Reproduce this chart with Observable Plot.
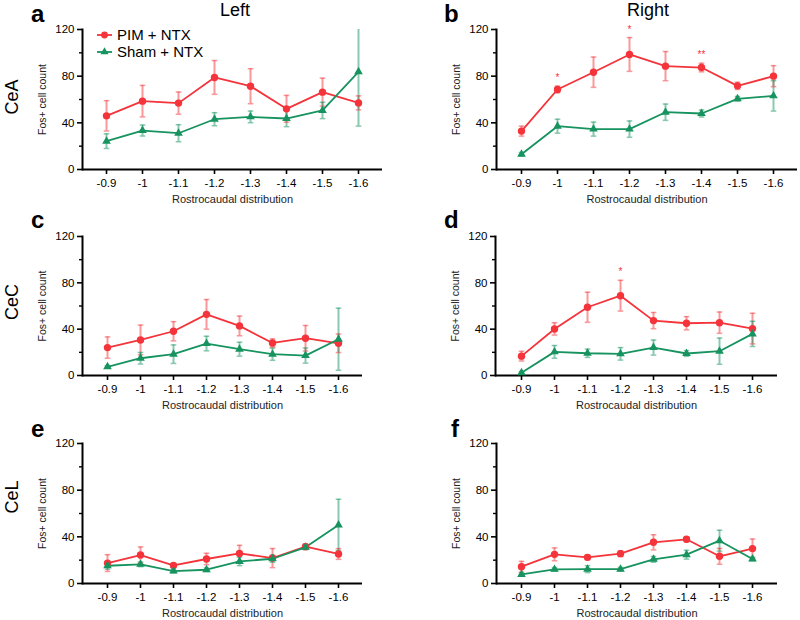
<!DOCTYPE html>
<html>
<head>
<meta charset="utf-8">
<script src="https://cdn.jsdelivr.net/npm/d3@7"></script>
<script src="https://cdn.jsdelivr.net/npm/@observablehq/plot@0.6"></script>
<style>
  html, body { margin: 0; padding: 0; background: #fff; }
  #root { position: relative; width: 800px; height: 620px; overflow: hidden; font-family: 'Liberation Sans', Arial, sans-serif; }
  #root svg { overflow: visible; }
  .panel { position: absolute; }
</style>
</head>
<body>
<div id="root"></div>
<script>
// ---------- data ----------
const positions = ["-0.9", "-1", "-1.1", "-1.2", "-1.3", "-1.4", "-1.5", "-1.6"];
const groups = ["PIM + NTX", "Sham + NTX"];
const sides = ["Left", "Right"];
const regions = ["CeA", "CeC", "CeL"];
const panelLetters = ["a", "b", "c", "d", "e", "f"];
const yTicks = [0, 40, 80, 120];
const yMinorTicks = [20, 60, 100];
const xTitle = "Rostrocaudal distribution";
const yTitle = "Fos+ cell count";

// CeA left (a)
const ceaLeftPim = [46, 58.6, 56.9, 78.9, 71.4, 52, 66.3, 57.1];
const ceaLeftPimSem = [13, 13.5, 9.5, 14.5, 15, 11.5, 12, 6];
const ceaLeftSham = [24.3, 33.4, 31.1, 43.1, 45.1, 43.7, 50.6, 83.7];
const ceaLeftShamSem = [6.3, 4.7, 7.3, 5.6, 5, 7, 7, 46.5];
const ceaLeftSig = ["", "", "", "", "", "", "", ""];
// CeA right (b)
const ceaRightPim = [32.9, 68.6, 83.4, 98.6, 88.6, 87.4, 71.7, 80];
const ceaRightPimSem = [4.3, 2.9, 13, 14.5, 12.5, 3.7, 3.1, 9];
const ceaRightSham = [13.1, 37.1, 34.6, 34.6, 49.1, 48, 60.6, 63.1];
const ceaRightShamSem = [1.5, 6, 6, 7, 7, 3, 2, 13];
const ceaRightSig = ["", "*", "", "*", "", "**", "", ""];
// CeC left (c)
const cecLeftPim = [24.1, 30.7, 38.2, 52.8, 42.8, 28.1, 32.2, 27.8];
const cecLeftPimSem = [9.2, 12.8, 8.3, 12.8, 8.5, 3.5, 11, 8];
const cecLeftSham = [7.5, 14.9, 18.4, 27.6, 22.7, 18.4, 17.2, 31.3];
const cecLeftShamSem = [1, 5, 8, 6.3, 6, 5.3, 6.5, 26.8];
const cecLeftSig = ["", "", "", "", "", "", "", ""];
// CeC right (d)
const cecRightPim = [16.7, 40.2, 58.9, 68.9, 47.4, 45.1, 45.6, 40.5];
const cecRightPimSem = [4.2, 5.3, 13, 13.3, 7, 5.7, 9.2, 13.2];
const cecRightSham = [2.3, 20.4, 19.2, 18.7, 24.1, 19, 21, 35.9];
const cecRightShamSem = [1, 5.5, 3.6, 5.4, 6.5, 2.5, 11.3, 10.9];
const cecRightSig = ["", "", "", "*", "", "", "", ""];
// CeL left (e)
const celLeftPim = [17.5, 24.4, 15.5, 21, 25.8, 21.8, 31.6, 25.3];
const celLeftPimSem = [7.2, 6.9, 1.5, 4.9, 6.9, 8.2, 2.3, 4.6];
const celLeftSham = [15.2, 16.4, 10.6, 11.8, 18.9, 21.2, 31, 50.2];
const celLeftShamSem = [3, 2, 1.5, 1.5, 3.6, 3, 2, 22];
const celLeftSig = ["", "", "", "", "", "", "", ""];
// CeL right (f)
const celRightPim = [14.4, 25, 22.4, 25.6, 35.3, 37.9, 23.3, 29.9];
const celRightPimSem = [4.6, 5.5, 2, 2.5, 6.5, 2, 6.8, 8.2];
const celRightSham = [7.8, 12.1, 12.3, 12.3, 20.7, 24.7, 36.7, 21];
const celRightShamSem = [1, 1.5, 3, 1.5, 2.5, 3.8, 9, 1.5];
const celRightSig = ["", "", "", "", "", "", "", ""];

// ---------- styling ----------
const RED = "#f4333a";
const GREEN = "#16935f";
const FONT = "'Liberation Sans', Arial, Helvetica, sans-serif";

const capSymbol = {
  draw(context) {
    context.moveTo(-2.8, 0);
    context.lineTo(2.8, 0);
  }
};

// layout of each panel (absolute pixel geometry of its frame)
const panels = [
  {pim: ceaLeftPim, pimSem: ceaLeftPimSem, sham: ceaLeftSham, shamSem: ceaLeftShamSem, sig: ceaLeftSig,
   left: 0, top: 0, h: 205, x0: 82, x1: 382, y0: 29, y1: 169, pad: 0.62},
  {pim: ceaRightPim, pimSem: ceaRightPimSem, sham: ceaRightSham, shamSem: ceaRightShamSem, sig: ceaRightSig,
   left: 400, top: 0, h: 205, x0: 496, x1: 797, y0: 29, y1: 169, pad: 0.63},
  {pim: cecLeftPim, pimSem: cecLeftPimSem, sham: cecLeftSham, shamSem: cecLeftShamSem, sig: cecLeftSig,
   left: 0, top: 205, h: 205, x0: 82, x1: 362, y0: 236, y1: 375, pad: 0.65},
  {pim: cecRightPim, pimSem: cecRightPimSem, sham: cecRightSham, shamSem: cecRightShamSem, sig: cecRightSig,
   left: 400, top: 205, h: 205, x0: 495, x1: 777, y0: 236, y1: 375, pad: 0.67},
  {pim: celLeftPim, pimSem: celLeftPimSem, sham: celLeftSham, shamSem: celLeftShamSem, sig: celLeftSig,
   left: 0, top: 412, h: 208, x0: 82, x1: 362, y0: 443, y1: 583, pad: 0.65},
  {pim: celRightPim, pimSem: celRightPimSem, sham: celRightSham, shamSem: celRightShamSem, sig: celRightSig,
   left: 400, top: 412, h: 208, x0: 496, x1: 777, y0: 443, y1: 583, pad: 0.67}
];

function buildTable(p) {
  const rows = [];
  groups.forEach((g, gi) => {
    const vals = gi === 0 ? p.pim : p.sham;
    const sems = gi === 0 ? p.pimSem : p.shamSem;
    positions.forEach((pos, i) => {
      rows.push({group: g, pos, value: vals[i], lo: vals[i] - sems[i], hi: vals[i] + sems[i], sig: gi === 0 ? p.sig[i] : ""});
    });
  });
  return rows;
}

function makePanel(p) {
  const table = buildTable(p);
  const sigRows = table.filter(d => d.sig);
  const pimRows = table.filter(d => d.group === groups[0]);
  const shamRows = table.filter(d => d.group === groups[1]);
  const plot = Plot.plot({
    width: 400,
    height: p.h,
    marginLeft: p.x0 - p.left,
    marginRight: p.left + 400 - p.x1,
    marginTop: p.y0 - p.top,
    marginBottom: p.top + p.h - p.y1,
    x: {type: "point", domain: positions, padding: p.pad},
    y: {domain: [0, 120]},
    color: {domain: groups, range: [RED, GREEN]},
    style: {fontFamily: FONT, fontSize: "11px", color: "black", background: "transparent", overflow: "visible"},
    marks: [
      Plot.axisY({ticks: yTicks, tickSize: 5, tickPadding: 3, strokeWidth: 1.6, fontSize: 11.5, label: null}),
      Plot.axisY({ticks: yMinorTicks, tickSize: 3, tickFormat: () => "", strokeWidth: 1.4, label: null}),
      Plot.axisX({tickSize: 5, tickPadding: 4, strokeWidth: 1.6, fontSize: 11.5, label: null}),
      Plot.frame({anchor: "left", strokeWidth: 2, stroke: "black"}),
      Plot.ruleY([0], {strokeWidth: 2, stroke: "black"}),
      Plot.text([xTitle], {frameAnchor: "bottom", dy: 33, fontSize: 11, fill: "#222"}),
      Plot.text([yTitle], {frameAnchor: "left", textAnchor: "middle", rotate: -90, dx: -40, fontSize: 10.5, fill: "#222"}),
      Plot.ruleX(table, {x: "pos", y1: "lo", y2: "hi", stroke: "group", strokeOpacity: 0.5, strokeWidth: 2, clip: true}),
      Plot.dot(table, {x: "pos", y: "hi", symbol: capSymbol, stroke: "group", strokeOpacity: 0.5, strokeWidth: 1.5, clip: true}),
      Plot.dot(table, {x: "pos", y: "lo", symbol: capSymbol, stroke: "group", strokeOpacity: 0.5, strokeWidth: 1.5, clip: true}),
      Plot.line(table, {x: "pos", y: "value", z: "group", stroke: "group", strokeWidth: 1.8}),
      Plot.dot(pimRows, {x: "pos", y: "value", symbol: "circle", fill: "group", r: 3.7}),
      Plot.dot(shamRows, {x: "pos", y: "value", symbol: "triangle", fill: "group", r: 3.2}),
      Plot.text(sigRows, {x: "pos", y: "hi", text: "sig", dy: -5, fill: RED, fontSize: 10, lineAnchor: "bottom"})
    ]
  });
  plot.classList.add("panel");
  plot.style.left = p.left + "px";
  plot.style.top = p.top + "px";
  return plot;
}

const root = document.getElementById("root");
panels.forEach(p => root.appendChild(makePanel(p)));

// ---------- annotations overlay (titles, letters, region labels, legend) ----------
const NS = "http://www.w3.org/2000/svg";
const overlay = document.createElementNS(NS, "svg");
overlay.setAttribute("width", 800);
overlay.setAttribute("height", 620);
overlay.setAttribute("class", "panel");
overlay.style.left = "0px";
overlay.style.top = "0px";
overlay.style.pointerEvents = "none";
overlay.style.fontFamily = FONT;
root.appendChild(overlay);

function addText(str, attrs) {
  const t = document.createElementNS(NS, "text");
  for (const k in attrs) t.setAttribute(k, attrs[k]);
  t.textContent = str;
  overlay.appendChild(t);
  return t;
}

const letterPos = [[31, 22], [444, 22], [31, 228], [444, 228], [31, 437], [451, 437]];
panelLetters.forEach((L, i) => addText(L, {x: letterPos[i][0], y: letterPos[i][1], "font-size": 24, "font-weight": "bold"}));

const sideX = [235, 648];
sides.forEach((s, i) => addText(s, {x: sideX[i], y: 16, "font-size": 18, "text-anchor": "middle"}));

const regionY = [97, 302, 497];
regions.forEach((r, i) => addText(r, {x: 0, y: 0, "font-size": 18, "text-anchor": "middle",
  transform: `translate(17.5,${regionY[i]}) rotate(-90)`}));

// legend
const legendRows = [{y: 35, shape: "circle"}, {y: 52, shape: "triangle"}];
groups.forEach((g, i) => {
  const col = i === 0 ? RED : GREEN;
  const y = legendRows[i].y;
  const ln = document.createElementNS(NS, "line");
  ln.setAttribute("x1", 97); ln.setAttribute("x2", 112);
  ln.setAttribute("y1", y); ln.setAttribute("y2", y);
  ln.setAttribute("stroke", col); ln.setAttribute("stroke-width", 1.8);
  overlay.appendChild(ln);
  const sym = document.createElementNS(NS, "path");
  const type = legendRows[i].shape === "circle" ? d3.symbolCircle : d3.symbolTriangle;
  sym.setAttribute("d", d3.symbol(type, legendRows[i].shape === "circle" ? 36 : 28)());
  sym.setAttribute("transform", `translate(104.5,${y})`);
  sym.setAttribute("fill", col);
  overlay.appendChild(sym);
  addText(g, {x: 117, y: y + 5, "font-size": 15});
});
</script>
</body>
</html>
